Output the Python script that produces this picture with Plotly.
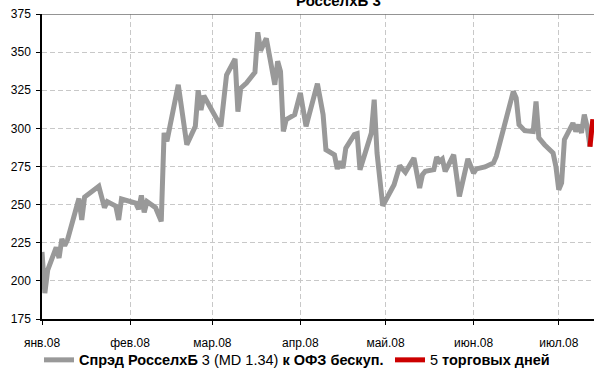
import plotly.graph_objects as go

# ---- data ----
spread_dates = [
    "2008-01-01", "2008-01-02", "2008-01-03", "2008-01-06", "2008-01-07", "2008-01-08",
    "2008-01-09", "2008-01-10", "2008-01-14", "2008-01-15", "2008-01-16", "2008-01-21",
    "2008-01-23", "2008-01-24", "2008-01-27", "2008-01-28", "2008-01-29",
    "2008-02-02", "2008-02-03", "2008-02-04", "2008-02-05", "2008-02-06", "2008-02-07",
    "2008-02-10", "2008-02-12", "2008-02-13", "2008-02-14", "2008-02-18", "2008-02-21",
    "2008-02-24", "2008-02-25", "2008-02-26", "2008-02-27",
    "2008-03-04", "2008-03-06", "2008-03-09", "2008-03-10", "2008-03-11", "2008-03-13",
    "2008-03-16", "2008-03-17", "2008-03-18", "2008-03-20", "2008-03-23", "2008-03-24",
    "2008-03-25", "2008-03-26", "2008-03-27", "2008-03-30",
    "2008-04-01", "2008-04-03", "2008-04-07", "2008-04-09", "2008-04-10", "2008-04-13",
    "2008-04-14", "2008-04-15", "2008-04-16", "2008-04-17", "2008-04-20", "2008-04-21",
    "2008-04-22", "2008-04-26", "2008-04-27", "2008-04-28", "2008-04-30",
    "2008-05-04", "2008-05-06", "2008-05-08", "2008-05-11", "2008-05-13", "2008-05-14",
    "2008-05-15", "2008-05-18", "2008-05-19", "2008-05-20", "2008-05-21", "2008-05-22",
    "2008-05-25", "2008-05-27", "2008-05-30",
    "2008-06-01", "2008-06-02", "2008-06-05", "2008-06-08", "2008-06-09", "2008-06-12",
    "2008-06-15", "2008-06-16", "2008-06-17", "2008-06-19", "2008-06-22", "2008-06-23",
    "2008-06-24", "2008-06-26", "2008-06-29", "2008-06-30",
    "2008-07-01", "2008-07-02", "2008-07-03", "2008-07-06", "2008-07-07", "2008-07-08",
    "2008-07-09", "2008-07-10", "2008-07-11", "2008-07-12",
]
spread_values = [
    219, 192, 207, 222, 215, 227.5, 223, 227, 254, 240, 255, 262, 248, 252, 249, 240, 253.7,
    252, 251, 247, 256, 245, 252, 248, 239, 297, 291.5, 328.6, 289.3, 301.3, 325, 312, 321.4,
    301.3, 335, 345.5, 311, 326.4, 329.7, 336.7, 363, 351, 359, 328.6, 344, 337.4, 298, 305.7, 309,
    323.2, 301.3, 329.3, 309, 286, 282.7, 273.4, 278.3, 274, 287, 295.9, 296.5, 272.9, 297, 318.8,
    283.8, 249.3,
    263, 275.5, 271.2, 280.6, 260.9, 269.6, 271.8, 272.9, 281.2, 278.3, 279.9, 271.8, 282.7,
    255.4, 280,
    270.7, 273.4, 274.7, 277.3, 281.6, 302.4, 324.2, 320, 302.4, 298.5, 298, 317.7, 293.7,
    289.3, 283.9, 275,
    259.8, 264.2, 292.6, 303.5, 298, 302.4, 297, 309, 301.3, 288,
]

last5_dates = ["2008-07-12", "2008-07-13"]
last5_values = [288, 306]

tick_dates = ["2008-01-01", "2008-02-01", "2008-03-01", "2008-04-01",
              "2008-05-01", "2008-06-01", "2008-07-01"]
tick_labels = ["янв.08", "фев.08", "мар.08", "апр.08", "май.08", "июн.08", "июл.08"]

y_ticks = [175, 200, 225, 250, 275, 300, 325, 350, 375]

series1_name = "<b>Спрэд РосселхБ</b> 3 (MD 1.34) <b>к ОФЗ бескуп.</b>"
series2_name = "5 <b>торговых дней</b>"
title_text = "<b>РосселхБ 3</b>"

FONT = "Liberation Sans Narrow, Arial Narrow, Liberation Sans, Arial, sans-serif"

fig = go.Figure()
fig.add_trace(go.Scatter(
    x=spread_dates, y=spread_values, mode="lines", name=series1_name,
    line=dict(color="#999999", width=5), legend="legend",
))
fig.add_trace(go.Scatter(
    x=last5_dates, y=last5_values, mode="lines", name=series2_name,
    line=dict(color="#CC0000", width=5), legend="legend2",
))

legend_common = dict(
    orientation="h", xref="container", yref="container",
    xanchor="left", yanchor="top", y=0.073,
    font=dict(family=FONT, size=14.5, color="black"),
    itemwidth=30, bgcolor="rgba(0,0,0,0)", borderwidth=0,
)

fig.update_layout(
    width=594, height=371,
    margin=dict(l=42, r=0, t=14, b=52, autoexpand=False),
    paper_bgcolor="white", plot_bgcolor="white",
    font=dict(family=FONT, size=11, color="black"),
    showlegend=True,
    legend=dict(legend_common, x=39 / 594),
    legend2=dict(legend_common, x=390 / 594),
    xaxis=dict(
        type="date",
        range=["2008-01-01", "2008-07-13 10:00"],
        tickmode="array", tickvals=tick_dates, ticktext=tick_labels,
        ticks="outside", ticklen=4, tickcolor="black", tickwidth=1,
        ticklabelstandoff=8,
        showline=True, linecolor="black", linewidth=1.5,
        showgrid=True, gridcolor="#c8c8c8", griddash="5px,3px", gridwidth=1,
        zeroline=False, automargin=False,
        tickfont=dict(family=FONT, size=12),
    ),
    yaxis=dict(
        range=[175, 375],
        tickmode="array", tickvals=y_ticks,
        ticks="outside", ticklen=4, tickcolor="black", tickwidth=1,
        ticklabelstandoff=3,
        showline=True, linecolor="black", linewidth=1.5,
        showgrid=True, gridcolor="#c8c8c8", griddash="5px,3px", gridwidth=1,
        zeroline=False, automargin=False,
        tickfont=dict(family=FONT, size=12),
    ),
    shapes=[dict(
        type="line", xref="paper", yref="y", x0=0, x1=1, y0=375, y1=375,
        line=dict(color="#707070", width=1.5), layer="above",
    )],
    annotations=[dict(
        text=title_text, xref="paper", yref="paper", x=0.538, y=1,
        xanchor="center", yanchor="bottom", yshift=3, showarrow=False,
        font=dict(family=FONT, size=15, color="black"),
    )],
)

fig.write_html(
    "out.html",
    config={"displayModeBar": False},
    post_script="document.body.style.margin='0px';document.body.style.overflow='hidden';",
)
